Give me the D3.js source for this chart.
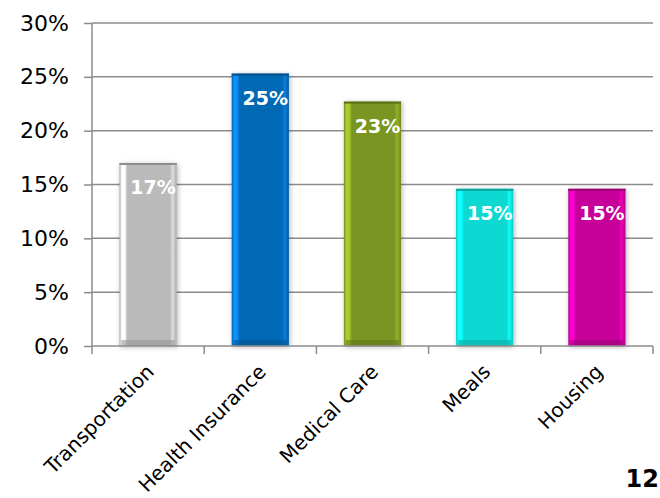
<!DOCTYPE html>
<html><head><meta charset="utf-8">
<script src="https://cdn.jsdelivr.net/npm/d3@7"></script>
<style>body{margin:0;background:#fff}svg{display:block}</style>
</head><body>
<script>
const categories = ["Transportation","Health Insurance","Medical Care","Meals","Housing"];
const values = [0.17, 0.253, 0.227, 0.146, 0.146];
const labels = ["17%","25%","23%","15%","15%"];
const colors = ["#bababa","#0669b6","#7a9521","#0bd8d2","#c60498"];
const yTicks = [0,0.05,0.10,0.15,0.20,0.25,0.30];
const pageNumber = "12";

const W=660,H=498;
const m={l:92,r:7,t:23,b:152};
const svg=d3.select("body").append("svg").attr("width",W).attr("height",H);
const defs=svg.append("defs");
const f=defs.append("filter").attr("id","sh").attr("x","-30%").attr("y","-10%").attr("width","160%").attr("height","120%");
f.append("feDropShadow").attr("dx",1).attr("dy",1).attr("stdDeviation",2.5).attr("flood-color","#000").attr("flood-opacity",0.3);

const x=d3.scaleBand().domain(categories).range([m.l,W-m.r]).paddingInner(0.49).paddingOuter(0.245);
const y=d3.scaleLinear().domain([0,0.30]).range([H-m.b,m.t]);
const font="'Century Gothic','URW Gothic','DejaVu Sans',sans-serif";

svg.append("g").selectAll("line").data(yTicks.slice(1)).join("line")
 .attr("x1",m.l).attr("x2",W-m.r).attr("y1",d=>y(d)).attr("y2",d=>y(d))
 .attr("stroke","#8c8c8c").attr("stroke-width",1.5);

colors.forEach((c,i)=>{
  const g=defs.append("linearGradient").attr("id","g"+i).attr("x1",0).attr("x2",1).attr("y1",0).attr("y2",0);
  const lc=d3.color(c).brighter(0.9), dc=d3.color(c).darker(0.25);
  [[0,dc],[0.04,lc],[0.09,lc],[0.14,c],[0.88,c],[0.93,d3.color(c).brighter(0.5)],[1,dc]].forEach(([o,col])=>g.append("stop").attr("offset",o).attr("stop-color",col));
});
const bars=svg.append("g").selectAll("g").data(categories).join("g");
bars.append("rect").attr("x",d=>x(d)).attr("width",x.bandwidth())
 .attr("y",(d,i)=>y(values[i])).attr("height",(d,i)=>y(0)-y(values[i]))
 .attr("fill",(d,i)=>"url(#g"+i+")").attr("filter","url(#sh)");
bars.append("rect").attr("x",d=>x(d)+2).attr("width",x.bandwidth()-4)
 .attr("y",y(0)-6).attr("height",6).attr("fill",(d,i)=>d3.color(colors[i]).darker(0.6)).attr("opacity",0.6);
bars.append("rect").attr("x",d=>x(d)).attr("width",x.bandwidth())
 .attr("y",(d,i)=>y(values[i])).attr("height",2).attr("fill",(d,i)=>d3.color(colors[i]).darker(0.8));
bars.append("text").attr("x",d=>x(d)+x.bandwidth()/2+5).attr("y",(d,i)=>y(values[i])+31)
 .attr("text-anchor","middle").attr("fill","#fff").attr("font-weight","bold")
 .attr("font-family",font).attr("font-size",19).text((d,i)=>labels[i]);

const ya=svg.append("g").attr("transform",`translate(${m.l},0)`)
 .call(d3.axisLeft(y).tickValues(yTicks).tickFormat(d3.format(".0%")).tickSize(8).tickPadding(15));
ya.select(".domain").attr("stroke","#8c8c8c").attr("stroke-width",1.5).attr("d",`M0,${m.t}V${y(0)}`);
ya.selectAll(".tick line").attr("stroke","#8c8c8c").attr("stroke-width",1.5);
ya.selectAll("text").attr("font-family",font).attr("font-size",22).attr("fill","#000");

const xa=svg.append("g").attr("transform",`translate(0,${y(0)})`)
 .call(d3.axisBottom(x).tickSize(0).tickFormat(""));
xa.select(".domain").attr("stroke","#8c8c8c").attr("stroke-width",1.5).attr("d",`M${m.l},0H${W-m.r}`);
const bounds=categories.map((d,i)=>x(d)+x.bandwidth()/2+x.step()/2);
xa.append("g").selectAll("line").data(bounds).join("line")
 .attr("x1",d=>d).attr("x2",d=>d).attr("y1",0).attr("y2",8).attr("stroke","#8c8c8c").attr("stroke-width",1.5);
xa.append("line").attr("x1",m.l).attr("x2",m.l).attr("y1",0).attr("y2",8).attr("stroke","#8c8c8c").attr("stroke-width",1.5);
xa.append("g").selectAll("text").data(categories).join("text")
 .attr("transform",d=>`translate(${x(d)+x.bandwidth()/2+7},27) rotate(-45)`)
 .attr("text-anchor","end").attr("font-family",font).attr("font-size",20).attr("fill","#000").text(d=>d);

svg.append("text").attr("x",659).attr("y",487).attr("text-anchor","end")
 .attr("font-family",font).attr("font-weight","bold").attr("font-size",24).attr("fill","#000").text(pageNumber);
</script>
</body></html>
